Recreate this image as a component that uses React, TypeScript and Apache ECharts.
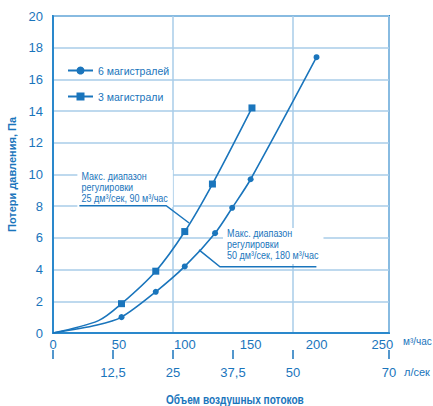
import React, { useEffect, useRef } from 'react';
import * as echarts from 'echarts';

const FONT = '"Liberation Sans Narrow", "Liberation Sans", Arial, sans-serif';
const BLUE = '#1a75bc';
const GRID_BLUE = '#a9cce9';
const FRAME_BLUE = '#2a88cc';

const seriesNames = ['6 магистралей', '3 магистрали'];
// flow in m³/час, pressure loss in Па; the first points of each curve carry no marker
const flow6 = [0, 33.5, 52, 78, 100, 123, 136, 150, 200];
const loss6 = [0, 0.5, 1.0, 2.6, 4.2, 6.3, 7.9, 9.7, 17.4];
const flow3 = [0, 34.5, 52, 78, 100, 121, 151];
const loss3 = [0, 0.78, 1.85, 3.9, 6.4, 9.4, 14.2];
const unmarkedCount = 2;

const lsTickValues = [0, 12.5, 25, 37.5, 50, 70];
const lsLabelValues = [12.5, 25, 37.5, 50, 70];

const leftNote = ['Макс. диапазон', 'регулировки', '25 дм³/сек, 90 м³/час'];
const rightNote = ['Макс. диапазон', 'регулировки', '50 дм³/сек, 180 м³/час'];
const leftNoteAnchor = [18.5, 10.28];
const leftLeader = [[20.0, 8.03], [85.9, 8.03], [103.3, 6.94]];
const rightNoteAnchor = [129.0, 6.62];
const rightLeader = [[199.9, 4.18], [126.7, 4.18], [110.8, 5.24]];
const xTitle = 'Объем воздушных потоков';
const xTitleAnchor = [138, -4.2];

function toData(xs: number[], ys: number[]) {
  return xs.map((x, i) => (i < unmarkedCount ? { value: [x, ys[i]], symbol: 'none' } : { value: [x, ys[i]] }));
}

export default function App() {
  const ref = useRef<HTMLDivElement>(null);
  useEffect(() => {
    document.body.style.margin = '0';
    const chart = echarts.init(ref.current!, null, { renderer: 'svg' });
    const option: any = {
      animation: false,
      grid: {
        left: 53,
        right: 44,
        top: 16,
        bottom: 73,
        show: true,
        borderColor: FRAME_BLUE,
        borderWidth: 2,
        backgroundColor: 'transparent',
        outerBoundsMode: 'none',
        containLabel: false,
      },
      legend: {
        data: seriesNames,
        orient: 'vertical',
        left: 62,
        top: 60,
        itemWidth: 25,
        itemHeight: 10,
        itemGap: 15,
        textStyle: { fontSize: 10.5, color: BLUE, fontFamily: FONT },
      },
      xAxis: [
        {
          type: 'value',
          min: 0,
          max: 255,
          interval: 50,
          position: 'bottom',
          axisLine: { show: true, lineStyle: { color: FRAME_BLUE, width: 2 } },
          axisTick: { show: false },
          splitLine: { show: false },
          axisLabel: {
            margin: 5,
            fontSize: 13,
            color: BLUE,
            fontFamily: FONT,
            formatter: (v: number) => (v % 50 === 0 ? String(v) : ''),
          },
          name: 'м³/час',
          nameLocation: 'end',
          nameGap: 14,
          nameTextStyle: { fontSize: 10, color: BLUE, fontFamily: FONT, align: 'left', verticalAlign: 'top', padding: [3, 0, 0, 0] },
        },
        {
          type: 'value',
          min: 0,
          max: 70,
          position: 'bottom',
          offset: 17,
          axisLine: { show: false },
          axisTick: { show: true, customValues: lsTickValues, length: 9, lineStyle: { color: BLUE, width: 1.5 } },
          splitLine: { show: false },
          axisLabel: {
            customValues: lsLabelValues,
            margin: 16,
            fontSize: 13,
            color: BLUE,
            fontFamily: FONT,
            formatter: (v: number) => String(v).replace('.', ','),
          },
          name: 'л/сек',
          nameLocation: 'end',
          nameGap: 15,
          nameTextStyle: { fontSize: 11, color: BLUE, fontFamily: FONT, align: 'left', verticalAlign: 'top', padding: [16, 0, 0, 0] },
        },
        {
          type: 'value',
          min: 0,
          max: 70,
          interval: 25,
          position: 'top',
          axisLine: { show: false },
          axisTick: { show: false },
          axisLabel: { show: false },
          splitLine: { show: true, lineStyle: { color: GRID_BLUE, width: 1.5 } },
        },
      ],
      yAxis: {
        type: 'value',
        min: 0,
        max: 20,
        interval: 2,
        axisLine: { show: true, lineStyle: { color: FRAME_BLUE, width: 2 } },
        axisTick: { show: false },
        splitLine: { show: true, lineStyle: { color: GRID_BLUE, width: 1.5 } },
        axisLabel: { margin: 10, fontSize: 13, color: BLUE, fontFamily: FONT },
        name: 'Потери давления, Па',
        nameLocation: 'middle',
        nameGap: 36,
        nameTextStyle: { fontSize: 11, fontWeight: 'bold', color: BLUE, fontFamily: FONT },
      },
      series: [
        {
          name: seriesNames[0],
          type: 'line',
          xAxisIndex: 0,
          yAxisIndex: 0,
          smooth: 0.3,
          symbol: 'circle',
          symbolSize: 6,
          lineStyle: { color: BLUE, width: 1.6 },
          itemStyle: { color: BLUE },
          data: toData(flow6, loss6),
          z: 3,
        },
        {
          name: seriesNames[1],
          type: 'line',
          xAxisIndex: 0,
          yAxisIndex: 0,
          smooth: 0.3,
          symbol: 'rect',
          symbolSize: 7,
          lineStyle: { color: BLUE, width: 1.6 },
          itemStyle: { color: BLUE },
          data: toData(flow3, loss3),
          z: 3,
        },
      ],
    };
    chart.setOption(option);

    const px = (p: number[]) => chart.convertToPixel({ seriesIndex: 0 }, p) as number[];
    const noteText = (lines: string[], anchor: number[], lh: number) => {
      const [x, y] = px(anchor);
      return {
        type: 'text',
        x,
        y,
        z: 10,
        scaleX: 0.82,
        style: {
          text: lines.join('\n'),
          fill: BLUE,
          fontSize: 11,
          fontFamily: FONT,
          lineHeight: lh,
          backgroundColor: '#ffffff',
          padding: [0, 6, 3, 5],
        },
      };
    };
    const leader = (pts: number[][]) => ({
      type: 'polyline',
      z: 10,
      shape: { points: pts.map(px) },
      style: { stroke: BLUE, lineWidth: 1.5, fill: 'none' },
    });
    const [tx, ty] = px(xTitleAnchor);
    chart.setOption({
      graphic: [
        noteText(leftNote, leftNoteAnchor, 11.3),
        leader(leftLeader),
        noteText(rightNote, rightNoteAnchor, 11),
        leader(rightLeader),
        {
          type: 'text',
          x: tx,
          y: ty,
          scaleX: 0.84,
          style: {
            text: xTitle,
            fill: BLUE,
            fontSize: 12,
            fontWeight: 'bold',
            fontFamily: FONT,
            align: 'center',
            verticalAlign: 'middle',
          },
        },
      ],
    });
    return () => chart.dispose();
  }, []);
  return <div ref={ref} style={{ width: 433, height: 406 }} />;
}
